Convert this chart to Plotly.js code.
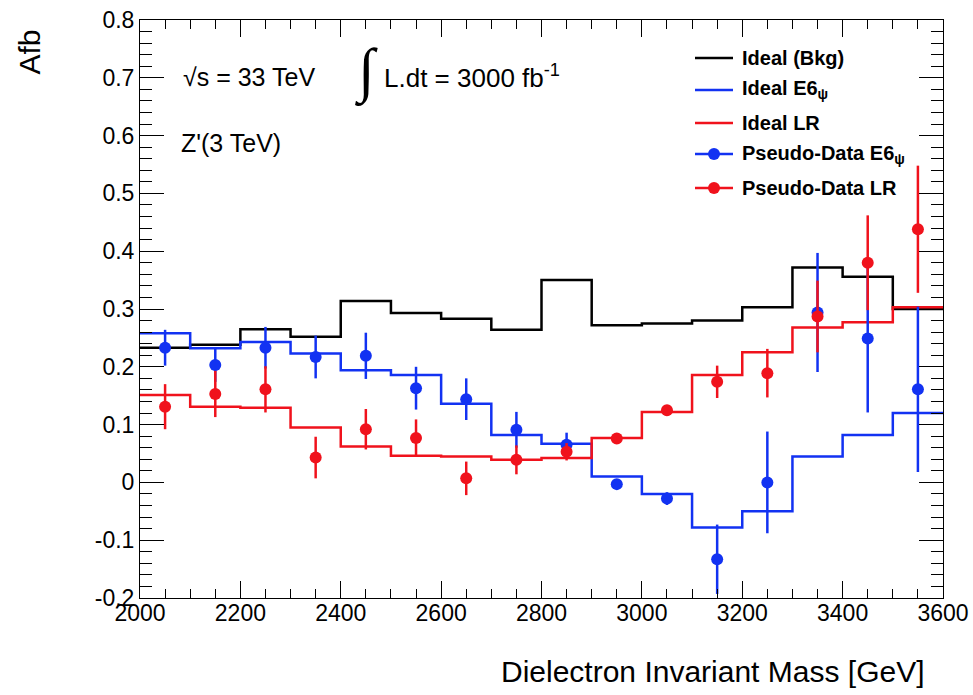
<!DOCTYPE html>
<html>
<head>
<meta charset="utf-8">
<script src="https://cdn.plot.ly/plotly-3.0.1.min.js"></script>
<style>
  html, body { margin: 0; padding: 0; background: #ffffff; }
  #chart { width: 973px; height: 695px; }
</style>
</head>
<body>
<div id="chart"></div>
<script>
// Forward-backward asymmetry vs dielectron invariant mass, 100 GeV bins
const binEdges = [2000, 2100, 2200, 2300, 2400, 2500, 2600, 2700, 2800,
                  2900, 3000, 3100, 3200, 3300, 3400, 3500, 3600];
const binCenters = [2050, 2150, 2250, 2350, 2450, 2550, 2650, 2750,
                    2850, 2950, 3050, 3150, 3250, 3350, 3450, 3550];

// Ideal expectations (histograms)
const afbIdealBkg = [0.233, 0.238, 0.265, 0.252, 0.314, 0.293, 0.283, 0.264,
                     0.350, 0.272, 0.275, 0.280, 0.303, 0.372, 0.356, 0.300];
const afbIdealE6 = [0.258, 0.232, 0.243, 0.223, 0.194, 0.186, 0.136, 0.082,
                    0.067, 0.010, -0.020, -0.078, -0.050, 0.045, 0.082, 0.120];
const afbIdealLR = [0.151, 0.131, 0.129, 0.095, 0.062, 0.046, 0.045, 0.039,
                    0.042, 0.077, 0.122, 0.186, 0.225, 0.268, 0.277, 0.303];

// Pseudo-data points with statistical errors
const afbDataE6 = [0.233, 0.203, 0.233, 0.217, 0.219, 0.163, 0.144, 0.091,
                   0.065, -0.003, -0.028, -0.133, 0.000, 0.294, 0.249, 0.161];
const errDataE6 = [0.031, 0.029, 0.036, 0.037, 0.040, 0.037, 0.036, 0.031,
                   0.021, 0.006, 0.011, 0.060, 0.088, 0.103, 0.128, 0.143];
const afbDataLR = [0.131, 0.153, 0.161, 0.043, 0.092, 0.077, 0.007, 0.039,
                   0.053, 0.076, 0.125, 0.174, 0.189, 0.287, 0.380, 0.438];
const errDataLR = [0.039, 0.040, 0.040, 0.036, 0.035, 0.032, 0.029, 0.025,
                   0.015, 0.008, 0.008, 0.028, 0.042, 0.062, 0.082, 0.110];

// Axis ticks
const yTickVals = [-0.2, -0.1, 0, 0.1, 0.2, 0.3, 0.4, 0.5, 0.6, 0.7, 0.8];
const yTickText = ['-0.2', '-0.1', '0', '0.1', '0.2', '0.3', '0.4', '0.5', '0.6', '0.7', '0.8'];

// Legend entries
const legendNames = ['Ideal (Bkg)', 'Ideal E6<sub>ψ</sub>', 'Ideal LR',
                     'Pseudo-Data E6<sub>ψ</sub>', 'Pseudo-Data LR'];

const BLACK = '#000000';
const BLUE = '#1232f2';
const RED = '#f0121c';
const FONT = 'Liberation Sans, Arial, Helvetica, sans-serif';

// Plot frame in pixels
const W = 973, H = 695;
const M = { l: 140, r: 30, t: 20, b: 97 };
const PW = W - M.l - M.r, PH = H - M.t - M.b;
const px = x => (x - M.l) / PW;          // pixel column -> paper x
const py = y => (H - M.b - y) / PH;      // pixel row -> paper y

function stepTrace(values, color, name) {
  return {
    type: 'scatter', mode: 'lines', name: name, showlegend: false,
    x: binEdges, y: values.concat([values[values.length - 1]]),
    line: { shape: 'hv', color: color, width: 2.5 },
    hoverinfo: 'skip'
  };
}
function dataTrace(values, errors, color, name) {
  return {
    type: 'scatter', mode: 'markers', name: name, showlegend: false,
    x: binCenters, y: values,
    marker: { color: color, size: 12, symbol: 'circle' },
    error_y: { type: 'data', array: errors, visible: true, color: color, thickness: 2.5, width: 0 }
  };
}

const traces = [
  stepTrace(afbIdealBkg, BLACK, legendNames[0]),
  stepTrace(afbIdealE6, BLUE, legendNames[1]),
  stepTrace(afbIdealLR, RED, legendNames[2]),
  dataTrace(afbDataE6, errDataE6, BLUE, legendNames[3]),
  dataTrace(afbDataLR, errDataLR, RED, legendNames[4])
];

// Legend drawn as line samples, markers and bold labels
const legendColors = [BLACK, BLUE, RED, BLUE, RED];
const legendHasMarker = [false, false, false, true, true];
const legendRows = [58, 90, 123, 154, 188];
const shapes = [];
const annotations = [];
legendNames.forEach((name, i) => {
  shapes.push({
    type: 'line', xref: 'paper', yref: 'paper',
    x0: px(695), x1: px(733), y0: py(legendRows[i]), y1: py(legendRows[i]),
    line: { color: legendColors[i], width: 2.5 }
  });
  if (legendHasMarker[i]) {
    shapes.push({
      type: 'circle', xref: 'paper', yref: 'paper',
      xsizemode: 'pixel', ysizemode: 'pixel',
      xanchor: px(714), yanchor: py(legendRows[i]),
      x0: -6, x1: 6, y0: -6, y1: 6,
      fillcolor: legendColors[i], line: { color: legendColors[i], width: 0 }
    });
  }
  annotations.push({
    xref: 'paper', yref: 'paper', x: px(740), y: py(legendRows[i]),
    xanchor: 'left', yanchor: 'middle', showarrow: false,
    text: '<b>' + name + '</b>',
    font: { family: FONT, size: 20, color: '#000' }
  });
});

// Collision energy, luminosity and signal mass labels
annotations.push(
  { xref: 'paper', yref: 'paper', x: px(181), y: py(77), xanchor: 'left', yanchor: 'middle',
    showarrow: false, text: '√s = 33 TeV', font: { family: FONT, size: 25, color: '#000' } },
  { xref: 'paper', yref: 'paper', x: px(353), y: py(72), xanchor: 'left', yanchor: 'middle',
    showarrow: false, text: '∫', font: { family: 'Liberation Serif, serif', size: 60, color: '#000' } },
  { xref: 'paper', yref: 'paper', x: px(382), y: py(76), xanchor: 'left', yanchor: 'middle',
    showarrow: false, text: 'L.dt = 3000 fb<sup>-1</sup>', font: { family: FONT, size: 26, color: '#000' } },
  { xref: 'paper', yref: 'paper', x: px(179), y: py(143), xanchor: 'left', yanchor: 'middle',
    showarrow: false, text: "Z'(3 TeV)", font: { family: FONT, size: 25, color: '#000' } },
  // Axis titles, placed at the far end of each axis
  { xref: 'paper', yref: 'paper', x: px(29), y: py(28), xanchor: 'center', yanchor: 'top',
    showarrow: false, textangle: -90, text: 'Afb', font: { family: FONT, size: 30, color: '#000' } },
  { xref: 'paper', yref: 'paper', x: px(927), y: py(671), xanchor: 'right', yanchor: 'middle',
    showarrow: false, text: 'Dielectron Invariant Mass [GeV]', font: { family: FONT, size: 30, color: '#000' } }
);

const layout = {
  width: W, height: H,
  margin: M,
  paper_bgcolor: '#ffffff', plot_bgcolor: '#ffffff',
  showlegend: false,
  font: { family: FONT, color: '#000' },
  xaxis: {
    range: [2000, 3600], dtick: 200, tick0: 2000,
    ticks: 'inside', ticklen: 17, tickwidth: 1, tickcolor: '#000',
    minor: { dtick: 50, ticks: 'inside', ticklen: 9, tickwidth: 1, tickcolor: '#000' },
    showline: true, linecolor: '#000', linewidth: 1, mirror: 'ticks',
    showgrid: false, zeroline: false,
    tickfont: { family: FONT, size: 23, color: '#000' },
    ticklabelstandoff: -6
  },
  yaxis: {
    range: [-0.2, 0.8], tickvals: yTickVals, ticktext: yTickText,
    ticks: 'inside', ticklen: 24, tickwidth: 1, tickcolor: '#000',
    minor: { dtick: 0.02, ticks: 'inside', ticklen: 12, tickwidth: 1, tickcolor: '#000' },
    showline: true, linecolor: '#000', linewidth: 1, mirror: 'ticks',
    showgrid: false, zeroline: false,
    tickfont: { family: FONT, size: 23, color: '#000' },
    ticklabelstandoff: 0
  },
  shapes: shapes,
  annotations: annotations
};

Plotly.newPlot('chart', traces, layout, { staticPlot: true, displayModeBar: false });
</script>
</body>
</html>
